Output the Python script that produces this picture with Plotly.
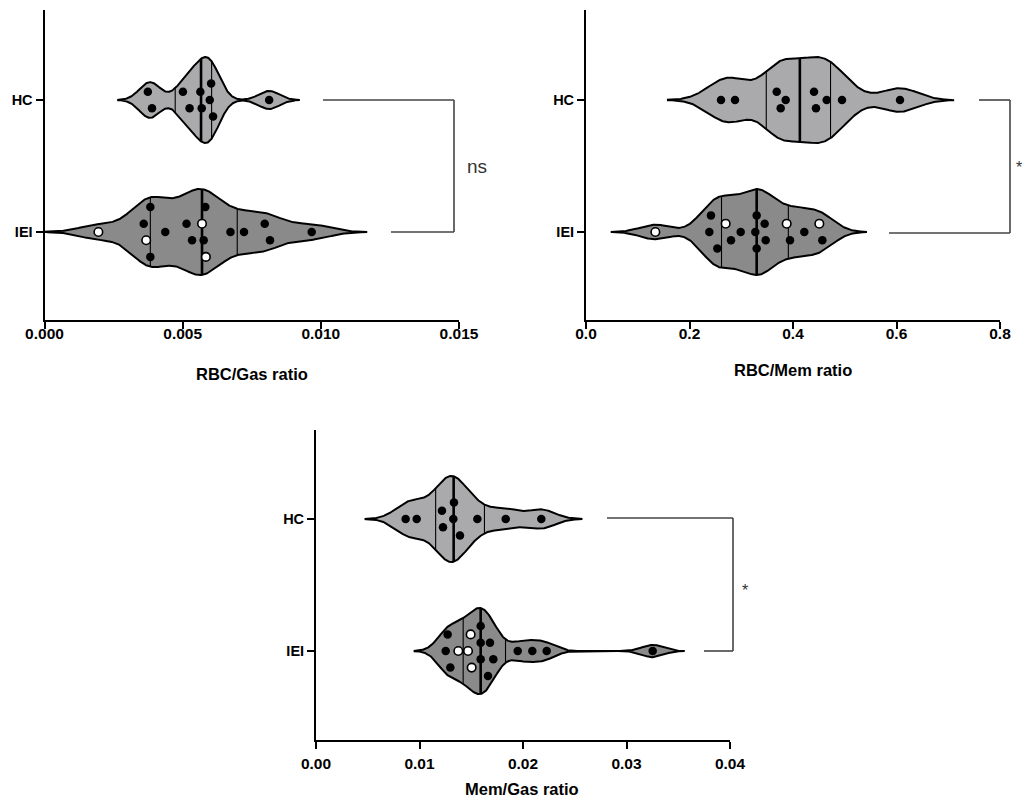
import numpy as np
import plotly.graph_objects as go

# ---------------- data ----------------
groups = ["IEI", "HC"]  # y positions 0, 1

rbcgas_hc = [0.00374, 0.00389, 0.00501, 0.00525, 0.00564, 0.00569, 0.00598, 0.00603, 0.00610, 0.00813]
rbcgas_iei = [0.00195, 0.00383, 0.00359, 0.00368, 0.00383, 0.00437, 0.00514, 0.00534, 0.00582,
              0.00576, 0.00570, 0.00584, 0.00673, 0.00722, 0.00797, 0.00816, 0.00967]
rbcgas_iei_open = [1, 0, 0, 1, 0, 0, 0, 0, 0, 0, 1, 1, 0, 0, 0, 0, 0]

rbcmem_hc = [0.2609, 0.2879, 0.3762, 0.3685, 0.3859, 0.4444, 0.4406, 0.4651, 0.4947, 0.6068]
rbcmem_iei = [0.1340, 0.2415, 0.2383, 0.2538, 0.2699, 0.2802, 0.2989, 0.3298, 0.3472,
              0.3298, 0.3272, 0.3453, 0.3942, 0.3878, 0.4219, 0.4567, 0.4509]
rbcmem_iei_open = [1, 0, 0, 0, 1, 0, 0, 0, 0, 0, 0, 0, 0, 1, 0, 0, 1]

memgas_hc = [0.00866, 0.00973, 0.01227, 0.01217, 0.01333, 0.01327, 0.01391, 0.01559, 0.01833, 0.02177]
memgas_iei = [0.01298, 0.01272, 0.01253, 0.01504, 0.01494, 0.01469, 0.01375, 0.01591, 0.01681,
              0.01591, 0.01713, 0.01662, 0.01591, 0.01949, 0.02090, 0.02229, 0.03253]
memgas_iei_open = [0, 0, 0, 1, 1, 1, 1, 0, 0, 0, 0, 0, 0, 0, 0, 0, 0]

titles = ["RBC/Gas ratio", "RBC/Mem ratio", "Mem/Gas ratio"]
x_ranges = [[0, 0.015], [0, 0.8], [0, 0.04]]
x_dticks = [0.005, 0.2, 0.01]
x_formats = [".3f", ".1f", ".2f"]
signif = ["ns", "*", "*"]

# ---------------- layout helpers ----------------
W, H = 1024, 800
def PX(x):
    return x / W
def PY(y):
    return 1 - y / H

HC_FILL = "#aaaaac"
IEI_FILL = "#8a8a8b"
FONT = "Liberation Sans, Arial, sans-serif"
HALF = 0.326  # violin half width in category units

panels = [
    dict(xd=(44.5, 459), yd=(10, 320), yr=[-0.667, 1.682], hc=rbcgas_hc, iei=rbcgas_iei, op=rbcgas_iei_open,
         stand=-9, title_xy=(252, 374)),
    dict(xd=(586, 1000), yd=(10, 320), yr=[-0.667, 1.682], hc=rbcmem_hc, iei=rbcmem_iei, op=rbcmem_iei_open,
         stand=-9, title_xy=(793, 370)),
    dict(xd=(316, 730), yd=(430, 740), yr=[-0.674, 1.674], hc=memgas_hc, iei=memgas_iei, op=memgas_iei_open,
         stand=1, title_xy=(522, 789)),
]


def stats(vals):
    v = np.asarray(vals, float)
    q1, med, q3 = np.percentile(v, [25, 50, 75], method="weibull")
    sd = v.std(ddof=1)
    bw = 0.6 * min(sd, (q3 - q1) / 1.349) * len(v) ** -0.2
    return v, q1, med, q3, bw


def density(v, bw, x):
    x = np.atleast_1d(x)
    return np.exp(-0.5 * ((x[:, None] - v[None, :]) / bw) ** 2).sum(1)


def swarm(vals, xscale, yscale, D=9.0, row=16.6):
    v = np.asarray(vals, float)
    order = list(np.argsort(v, kind="stable"))
    clusters = []
    for i in order:
        if clusters and (v[i] - v[clusters[-1][0]]) * xscale < D:
            clusters[-1].append(i)
        else:
            clusters.append([i])
    placed = []
    offs = np.zeros(len(v))
    for cl in clusters:
        n = len(cl)
        base = sorted([(k - (n - 1) / 2) for k in range(n)], key=lambda o: (abs(o), -o))
        for shift in [0, 0.5, -0.5, 1, -1, 1.5, -1.5]:
            cand = [(v[i] * xscale, (b + shift) * row) for i, b in zip(cl, base)]
            ok = all((a - c) ** 2 + (b - d) ** 2 >= (0.95 * D) ** 2
                     for a, b in cand for c, d in placed)
            if ok:
                break
        for i, (a, b) in zip(cl, cand):
            placed.append((a, b))
            offs[i] = b / yscale
    return offs


fig = go.Figure()
shapes = []
annotations = []

for pi, p in enumerate(panels):
    ax = "" if pi == 0 else str(pi + 1)
    xref, yref = "x" + ax, "y" + ax
    xr = x_ranges[pi]
    xscale = (p["xd"][1] - p["xd"][0]) / (xr[1] - xr[0])
    yscale = (p["yd"][1] - p["yd"][0]) / (p["yr"][1] - p["yr"][0])

    for gi, (vals, fill) in enumerate([(p["iei"], IEI_FILL), (p["hc"], HC_FILL)]):
        y0 = gi
        v, q1, med, q3, bw = stats(vals)
        grid = np.linspace(v.min() - 3 * bw, v.max() + 3 * bw, 500)
        d = density(v, bw, grid)
        dmax = d.max()
        w = HALF * d / dmax
        xs = np.concatenate([grid, grid[::-1]])
        ys = np.concatenate([y0 + w, (y0 - w)[::-1]])
        fig.add_trace(go.Scatter(x=xs, y=ys, mode="lines", fill="toself", fillcolor=fill,
                                 line=dict(color="black", width=2), hoverinfo="skip",
                                 showlegend=False, xaxis=xref, yaxis=yref))
        for q, lw in [(q1, 1.1), (q3, 1.1), (med, 2.6)]:
            hw = HALF * density(v, bw, q)[0] / dmax
            fig.add_trace(go.Scatter(x=[q, q], y=[y0 - hw, y0 + hw], mode="lines",
                                     line=dict(color="black", width=lw), hoverinfo="skip",
                                     showlegend=False, xaxis=xref, yaxis=yref))
        offs = swarm(v, xscale, yscale)
        opn = np.array(p["op"] if gi == 0 else [0] * len(v), bool)
        fig.add_trace(go.Scatter(x=v[~opn], y=y0 + offs[~opn], mode="markers",
                                 marker=dict(size=8.5, color="black", line=dict(width=0)),
                                 showlegend=False, xaxis=xref, yaxis=yref,
                                 name=groups[gi]))
        if opn.any():
            fig.add_trace(go.Scatter(x=v[opn], y=y0 + offs[opn], mode="markers",
                                     marker=dict(size=8.5, color="white", line=dict(width=1.6, color="black")),
                                     showlegend=False, xaxis=xref, yaxis=yref,
                                     name=groups[gi]))

    xdom = [PX(p["xd"][0]), PX(p["xd"][1])]
    ydom = [PY(p["yd"][1]), PY(p["yd"][0])]
    fig.update_layout(**{
        "xaxis" + ax: dict(domain=xdom, range=xr, anchor=yref, dtick=x_dticks[pi], tick0=0,
                           tickformat=x_formats[pi], showgrid=False, zeroline=False, automargin=False,
                           showline=True, linecolor="black", linewidth=2,
                           ticks="outside", ticklen=7, tickwidth=2, tickcolor="black",
                           ticklabelstandoff=p["stand"],
                           tickfont=dict(family=FONT, size=15.5, color="black", weight="bold")),
        "yaxis" + ax: dict(domain=ydom, range=p["yr"], anchor=xref, tickvals=[0, 1], ticktext=groups,
                           showgrid=False, zeroline=False, showline=True, linecolor="black", linewidth=2,
                           automargin=False, ticks="outside", ticklen=7, tickwidth=2, tickcolor="black",
                           tickfont=dict(family=FONT, size=14.5, color="black", weight="bold")),
    })
    annotations.append(dict(text=titles[pi], xref="paper", yref="paper",
                            x=PX(p["title_xy"][0]), y=PY(p["title_xy"][1]),
                            xanchor="center", yanchor="middle", showarrow=False,
                            font=dict(family=FONT, size=16.5, color="black", weight="bold")))

# significance brackets (pixel positions of the annotation furniture)
brackets = [
    dict(hc=(323, 454, 100), iei=(391, 454, 232), txt=(477, 166), size=19),
    dict(hc=(979, 1010, 100), iei=(889, 1010, 233), txt=(1019, 168), size=16),
    dict(hc=(607, 733, 518), iei=(704, 733, 651), txt=(745, 590), size=16),
]
for bi, b in enumerate(brackets):
    lc = "#444444"
    shapes.append(dict(type="line", xref="paper", yref="paper", x0=PX(b["hc"][0]), x1=PX(b["hc"][1]),
                       y0=PY(b["hc"][2]), y1=PY(b["hc"][2]), line=dict(color=lc, width=1.6)))
    shapes.append(dict(type="line", xref="paper", yref="paper", x0=PX(b["iei"][0]), x1=PX(b["iei"][1]),
                       y0=PY(b["iei"][2]), y1=PY(b["iei"][2]), line=dict(color=lc, width=1.6)))
    shapes.append(dict(type="line", xref="paper", yref="paper", x0=PX(b["hc"][1]), x1=PX(b["hc"][1]),
                       y0=PY(b["hc"][2]), y1=PY(b["iei"][2]), line=dict(color=lc, width=1.6)))
    annotations.append(dict(text=signif[bi], xref="paper", yref="paper", x=PX(b["txt"][0]), y=PY(b["txt"][1]),
                            xanchor="center", yanchor="middle", showarrow=False,
                            font=dict(family=FONT, size=b["size"], color="#333333")))

fig.update_layout(width=W, height=H, margin=dict(l=0, r=0, t=0, b=0, autoexpand=False),
                  paper_bgcolor="white", plot_bgcolor="white",
                  shapes=shapes, annotations=annotations, showlegend=False)

fig.write_html("out.html", config={"displayModeBar": False},
               post_script="document.body.style.margin='0px';")
